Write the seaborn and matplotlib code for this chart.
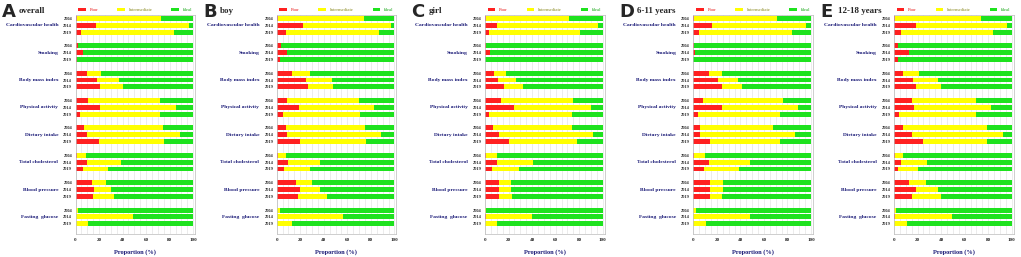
import numpy as np
import pandas as pd
import matplotlib
matplotlib.use("Agg")
import matplotlib.pyplot as plt
from matplotlib.patches import Patch
import seaborn as sns

sns.set_style("white")
plt.rcParams['font.family'] = ['Liberation Serif', 'DejaVu Serif']

categories = ["Cardiovascular health", "Smoking", "Body mass index", "Physical activity",
              "Dietary intake", "Total cholesterol", "Blood pressure", "Fasting  glucose"]
years = ["2004", "2014", "2019"]
levels = ["Poor", "Intermediate", "Ideal"]
panel_letters = ["A", "B", "C", "D", "E"]
panel_titles = ["overall", "boy", "girl", "6-11 years", "12-18 years"]

# values per panel: 8 metrics x 3 years (2004, 2014, 2019)
overall_poor  = [1, 17, 5,  2, 6, 1,  10, 18, 21,  11, 21, 4,  7, 10, 20,  1, 10, 6,  14, 16, 15,  0, 0, 0]
overall_inter = [72, 79, 79, 0, 0, 0,  12, 19, 19,  61, 64, 68,  67, 79, 55,  8, 29, 22,  12, 14, 18,  2, 49, 11]
overall_ideal = [27, 4, 16, 98, 94, 99,  78, 63, 60,  28, 15, 28,  26, 11, 25,  91, 61, 72,  74, 70, 67,  98, 51, 89]

boy_poor  = [1, 22, 8,  4, 9, 3,  13, 25, 27,  9, 19, 5,  8, 9, 20,  1, 10, 6,  16, 20, 18,  0, 0, 0]
boy_inter = [73, 75, 79, 0, 0, 0,  15, 22, 21,  61, 64, 66,  67, 80, 56,  7, 27, 22,  14, 17, 25,  3, 56, 13]
boy_ideal = [26, 3, 13, 96, 91, 97,  72, 53, 52,  30, 17, 29,  25, 11, 24,  92, 63, 72,  70, 63, 57,  97, 44, 87]

girl_poor  = [1, 10, 3,  1, 4, 0,  8, 11, 16,  14, 25, 3,  7, 12, 20,  1, 10, 6,  12, 12, 12,  0, 0.5, 0]
girl_inter = [70, 86, 78, 0, 0, 0,  10, 15, 16,  61, 65, 71,  67, 80, 58,  9, 31, 23,  10, 10, 11,  1, 39, 10]
girl_ideal = [29, 4, 19, 99, 96, 100,  82, 74, 68,  25, 10, 26,  26, 8, 22,  90, 59, 71,  78, 78, 77,  99, 60.5, 90]

y611_poor  = [1, 16, 5,  0.6, 1.7, 0,  13, 21, 24,  8, 24, 4,  6, 6, 14,  1, 13, 9,  14, 14, 14,  0, 0, 0]
y611_inter = [70, 80, 79, 0, 0, 0,  11, 17, 17,  68, 65, 70,  62, 80, 60,  9, 35, 30,  11, 11, 10,  2, 48, 11]
y611_ideal = [29, 4, 16, 99.4, 98.3, 100,  76, 62, 59,  24, 11, 26,  32, 14, 26,  90, 52, 61,  75, 75, 76,  98, 52, 89]

y1218_poor  = [1, 19, 6,  3, 13, 3,  8, 16, 19,  15, 17, 4,  8, 15, 25,  1, 6, 3,  13, 19, 15,  0, 0.5, 0]
y1218_inter = [73, 77, 78, 0, 0, 0,  13, 21, 21,  55, 65, 66,  71, 78, 54,  7, 22, 17,  14, 18, 25,  2, 48.5, 11]
y1218_ideal = [26, 4, 16, 97, 87, 97,  79, 63, 60,  30, 18, 30,  21, 7, 21,  92, 72, 80,  73, 63, 60,  98, 51, 89]

panels = [
    (overall_poor, overall_inter, overall_ideal),
    (boy_poor, boy_inter, boy_ideal),
    (girl_poor, girl_inter, girl_ideal),
    (y611_poor, y611_inter, y611_ideal),
    (y1218_poor, y1218_inter, y1218_ideal),
]

colors = {"Poor": "#ff2020", "Intermediate": "#ffff00", "Ideal": "#1ee21e"}
text_colors = {"Poor": "#e81c1c", "Intermediate": "#8a8a20", "Ideal": "#18a818"}
navy = "#1c1c78"

# slot order: 3 years per metric, with an empty slot between metrics
order = []
for g in range(len(categories)):
    for y in years:
        order.append(f"{g}-{y}")
    if g < len(categories) - 1:
        order.append(f"gap{g}")

W, H = 1021, 257
fig = plt.figure(figsize=(W / 100, H / 100), dpi=100)

ax_left_px = [75.5, 276.7, 485.0, 693.3, 894.0]
ax_w_px = 119.5
ax_top_px, ax_bot_px = 15.0, 234.0

for p, (poor, inter, ideal) in enumerate(panels):
    rows = []
    for g in range(len(categories)):
        for j, y in enumerate(years):
            k = g * 3 + j
            rows.append({"slot": f"{g}-{y}", "Poor": poor[k], "Intermediate": inter[k], "Ideal": ideal[k]})
    df = pd.DataFrame(rows)
    df["c_int"] = df["Poor"] + df["Intermediate"]
    df["c_all"] = df["c_int"] + df["Ideal"]

    ax = fig.add_axes([ax_left_px[p] / W, 1 - ax_bot_px / H, ax_w_px / W, (ax_bot_px - ax_top_px) / H])
    ax.set_axisbelow(True)
    ax.set_xticks(np.arange(0, 101, 5), minor=True)
    ax.grid(which="both", axis="x", color="#dddddd", lw=0.4)

    for col, cname in [("c_all", "Ideal"), ("c_int", "Intermediate"), ("Poor", "Poor")]:
        sns.barplot(data=df, x=col, y="slot", order=order, orient="h", ax=ax,
                    color=colors[cname], width=0.72, saturation=1,
                    edgecolor="none", linewidth=0, errorbar=None)

    ax.set_xlim(0, 101.5)
    ax.set_ylim(len(order) - 0.5 + 1, -0.5)
    ax.set_xticks([0, 20, 40, 60, 80, 100])
    ax.set_xticklabels(["0", "20", "40", "60", "80", "100"], fontsize=3.6, fontweight="bold")
    ax.tick_params(axis="x", length=1.5, width=0.4, pad=1.5, which="major")
    ax.tick_params(axis="x", which="minor", length=0)

    ypos = [order.index(f"{g}-{y}") for g in range(len(categories)) for y in years]
    ax.set_yticks(ypos)
    ax.set_yticklabels(years * len(categories), fontsize=3.2, fontweight="bold")
    ax.tick_params(axis="y", length=1.2, width=0.4, pad=1.2)
    ax.set_ylabel("")
    ax.set_xlabel("Proportion (%)", fontsize=4.6, fontweight="bold", color=navy, labelpad=5)

    for s in ax.spines.values():
        s.set_color("#bbbbbb")
        s.set_linewidth(0.5)

    for g, cat in enumerate(categories):
        yc = order.index(f"{g}-2014")
        ax.text(-0.145, yc, cat, transform=ax.get_yaxis_transform(), ha="right", va="center",
                fontsize=3.95, fontweight="bold", color=navy)

    handles = [Patch(facecolor=colors[l], edgecolor="none") for l in levels]
    leg = ax.legend(handles, levels, ncol=3, loc="lower center", bbox_to_anchor=(0.5, 1.0),
                    frameon=False, fontsize=3.4, handlelength=1.6, handleheight=0.6,
                    columnspacing=4.0, handletextpad=0.8, borderaxespad=0.3)
    for t, l in zip(leg.get_texts(), levels):
        t.set_color(text_colors[l])

    x0 = ax_left_px[p] - 75.5 + 2
    fig.text(x0 / W, 1 - 17 / H, panel_letters[p], fontsize=13, fontweight="bold",
             family=["DejaVu Sans"], ha="left", va="baseline")
    fig.text((x0 + 17) / W, 1 - 13 / H, panel_titles[p], fontsize=6.5, fontweight="bold",
             ha="left", va="baseline")

fig.savefig("out.png", dpi=100)
